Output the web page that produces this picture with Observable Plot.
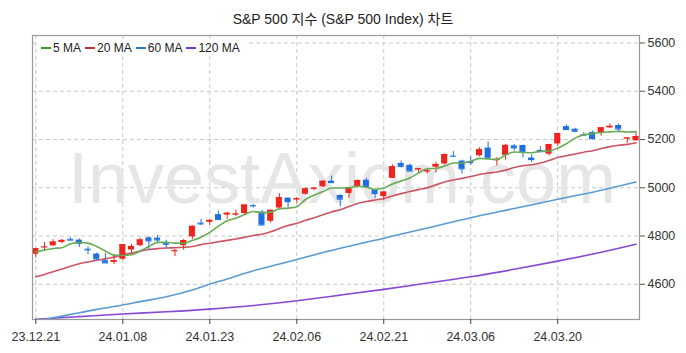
<!DOCTYPE html>
<html>
<head>
<meta charset="utf-8">
<script src="https://cdn.jsdelivr.net/npm/d3@7"></script>
<script src="https://cdn.jsdelivr.net/npm/@observablehq/plot@0.6"></script>
<style>
  html, body { margin: 0; padding: 0; background: #fff; }
  #wrap { position: relative; width: 686px; height: 353px; overflow: hidden; font-family: "Liberation Sans", Arial, "Noto Sans CJK KR", sans-serif; }
  #title { position: absolute; left: 0; width: 686px; top: 8px; text-align: center; font-size: 14px; color: #222; font-family: "Liberation Sans", Arial, "Noto Sans CJK KR", sans-serif; }
  #legend { position: absolute; left: 37px; top: 40px; height: 16px; background: #fff; display: flex; align-items: center; padding: 0 4px; font-size: 12px; color: #222; }
  .item { display: flex; align-items: center; margin-right: 4px; }
  .sw { width: 10px; height: 2px; margin-right: 2px; }
</style>
</head>
<body>
<div id="wrap">
  <div id="chart"></div>
  <div id="title">S&amp;P 500 지수 (S&amp;P 500 Index) 차트</div>
  <div id="legend"></div>
</div>
<script>
const dates = ["23.12.21","23.12.22","23.12.26","23.12.27","23.12.28","23.12.29","24.01.02","24.01.03","24.01.04","24.01.05","24.01.08","24.01.09","24.01.10","24.01.11","24.01.12","24.01.16","24.01.17","24.01.18","24.01.19","24.01.22","24.01.23","24.01.24","24.01.25","24.01.26","24.01.29","24.01.30","24.01.31","24.02.01","24.02.02","24.02.05","24.02.06","24.02.07","24.02.08","24.02.09","24.02.12","24.02.13","24.02.14","24.02.15","24.02.16","24.02.20","24.02.21","24.02.22","24.02.23","24.02.26","24.02.27","24.02.28","24.02.29","24.03.01","24.03.04","24.03.05","24.03.06","24.03.07","24.03.08","24.03.11","24.03.12","24.03.13","24.03.14","24.03.15","24.03.18","24.03.19","24.03.20","24.03.21","24.03.22","24.03.25","24.03.26","24.03.27","24.03.28","24.04.01","24.04.02","24.04.03"];

const opens = [4724.29,4753.92,4758.86,4773.45,4786.44,4782.88,4745.20,4725.07,4697.42,4690.57,
4703.70,4741.93,4759.94,4792.13,4791.18,4772.35,4739.13,4760.10,4796.28,4853.42,
4856.80,4888.56,4886.66,4888.91,4892.95,4925.89,4899.19,4861.11,4916.06,4957.19,
4950.16,4973.05,4995.16,5004.17,5026.83,4967.94,4976.44,5003.14,5031.13,4989.32,
4963.03,5038.83,5100.92,5093.00,5074.60,5067.20,5085.36,5098.51,5130.99,5110.52,
5108.03,5132.38,5164.46,5111.96,5134.30,5173.49,5175.14,5123.31,5154.77,5139.09,
5181.69,5253.43,5242.48,5219.52,5228.85,5226.31,5248.03,5257.97,5204.29,5194.37];

const highs = [4748.71,4772.94,4784.72,4785.39,4793.30,4788.43,4754.33,4729.29,4726.78,4721.49,
4764.54,4765.47,4790.80,4798.50,4802.40,4782.34,4744.23,4785.79,4842.07,4868.41,
4866.48,4903.68,4898.15,4906.69,4929.31,4931.09,4906.75,4906.97,4975.29,4957.19,
4957.77,4999.89,5000.40,5030.06,5048.39,4971.30,5002.52,5032.72,5038.70,4993.71,
4983.21,5094.39,5111.06,5097.66,5080.69,5077.37,5104.99,5140.33,5149.67,5114.54,
5127.97,5165.62,5189.26,5124.66,5179.87,5179.14,5176.85,5136.86,5170.00,5180.31,
5226.19,5261.10,5246.09,5229.09,5235.16,5249.26,5264.85,5263.95,5208.34,5228.75];

const lows = [4708.35,4736.77,4758.45,4768.90,4780.98,4751.99,4722.67,4699.71,4687.53,4682.11,
4699.82,4730.35,4756.20,4739.58,4768.98,4747.12,4714.82,4740.57,4785.87,4844.05,
4844.37,4865.94,4869.34,4881.47,4887.40,4916.27,4845.15,4853.52,4907.99,4918.09,
4934.88,4969.05,4987.09,5000.34,5016.83,4920.31,4956.45,4999.44,4999.52,4955.02,
4946.00,5038.83,5081.46,5068.91,5057.29,5058.35,5061.89,5094.16,5127.18,5056.82,
5092.22,5128.21,5117.50,5091.14,5114.48,5151.88,5123.30,5104.35,5145.47,5131.59,
5171.55,5240.66,5229.87,5216.09,5203.42,5213.92,5245.82,5229.20,5184.05,5194.37];

const closes = [4746.75,4754.63,4774.75,4781.58,4783.35,4769.83,4742.83,4704.81,4688.68,4697.24,
4763.54,4756.50,4783.45,4780.24,4783.83,4765.98,4739.21,4780.94,4839.81,4850.43,
4864.60,4868.55,4894.16,4890.97,4927.93,4924.97,4845.65,4906.19,4958.61,4942.81,
4954.23,4995.06,4997.91,5026.61,5021.84,4953.17,5000.62,5029.73,5005.57,4975.51,
4981.80,5087.03,5088.80,5069.53,5078.18,5069.76,5096.27,5137.08,5130.95,5078.65,
5104.76,5157.36,5123.69,5117.94,5175.27,5165.31,5150.48,5117.09,5149.42,5178.51,
5224.62,5241.53,5234.18,5218.19,5203.58,5248.49,5254.35,5243.77,5205.81,5211.49];

const ma5 = [4734.64,4741.73,4748.57,4751.21,4768.21,4772.83,4770.47,4756.48,4737.90,4720.68,
4719.42,4722.15,4737.88,4756.19,4773.51,4774.00,4770.54,4770.04,4781.95,4795.27,
4815.00,4840.87,4863.51,4873.74,4889.24,4901.32,4896.74,4899.14,4912.67,4915.65,
4921.50,4951.38,4969.72,4983.32,4999.13,4998.92,5000.03,5006.39,5002.19,4992.92,
4998.65,5015.93,5027.74,5040.53,5061.07,5078.66,5080.51,5090.16,5102.45,5102.54,
5109.54,5121.76,5119.08,5116.48,5135.80,5147.91,5146.54,5145.22,5151.51,5152.16,
5164.02,5182.23,5205.65,5219.41,5224.42,5229.19,5231.76,5233.68,5231.20,5232.78];

const ma20 = [4631.00,4640.76,4651.98,4663.31,4674.95,4685.05,4692.46,4699.21,4705.29,4712.68,
4721.58,4729.19,4737.24,4744.06,4747.90,4750.22,4751.22,4753.24,4756.82,4764.42,
4770.31,4776.01,4781.98,4787.45,4794.68,4802.43,4807.57,4817.64,4831.14,4843.42,
4852.95,4864.88,4875.60,4887.92,4899.82,4909.18,4922.25,4934.69,4942.98,4949.23,
4955.09,4966.02,4975.75,4984.68,4992.19,4999.43,5011.96,5023.51,5032.12,5038.92,
5046.44,5054.56,5060.85,5065.41,5073.08,5083.69,5091.18,5095.55,5102.74,5112.89,
5125.04,5132.76,5140.03,5147.46,5153.73,5162.67,5170.57,5175.91,5179.65,5186.29];

// 60 MA and 120 MA at selected days
const ma60Days = [0, 3, 5, 7, 10, 12, 15, 18, 20, 22, 25, 28, 30, 35, 40, 45, 50, 55, 60, 65, 69];
const ma60 = [4447, 4468, 4482, 4496, 4514, 4528, 4548, 4576, 4600, 4622, 4656, 4684, 4703, 4749, 4791, 4833, 4876, 4914, 4952, 4990, 5024];

const ma120Days = [0, 5, 10, 15, 20, 25, 30, 35, 40, 45, 50, 55, 60, 65, 69];
const ma120 = [4455, 4466, 4477, 4486, 4497, 4512, 4532, 4555, 4579, 4605, 4631, 4662, 4696, 4733, 4766];

const yTicks = [4600, 4800, 5000, 5200, 5400, 5600];
const xTicks = [0, 10, 20, 30, 40, 50, 60];

const series = [
  {name: "5 MA", color: "#3f9a2c", line: "#68ab55"},
  {name: "20 MA", color: "#c62d3a", line: "#cc5563"},
  {name: "60 MA", color: "#2a7cc6", line: "#5a9bd4"},
  {name: "120 MA", color: "#7a35d0", line: "#8748d4"}
];

const UP = "#f0241c", DOWN = "#1f6fe3";

const candles = dates.map((d, i) => ({i, date: d, open: opens[i], high: highs[i], low: lows[i], close: closes[i]}));
const col = d => d.close >= d.open ? UP : DOWN;
const ma5Data = ma5.map((v, i) => ({i, v}));
const ma20Data = ma20.map((v, i) => ({i, v}));
const ma60Data = ma60.map((v, k) => ({i: ma60Days[k], v}));
const ma120Data = ma120.map((v, k) => ({i: ma120Days[k], v}));

const chart = Plot.plot({
  width: 686,
  height: 353,
  marginLeft: 32,
  marginRight: 47,
  marginTop: 35,
  marginBottom: 34,
  style: {fontFamily: "'Liberation Sans', Arial, sans-serif", fontSize: "12.5px", color: "#333", background: "#fff"},
  x: {type: "linear", domain: [-0.38, 69.4], label: null},
  y: {domain: [4454, 5631], label: null},
  marks: [
    Plot.gridY(yTicks, {stroke: "#c8c8c8", strokeOpacity: 1, strokeDasharray: "4,3"}),
    Plot.gridX(xTicks, {stroke: "#c8c8c8", strokeOpacity: 1, strokeDasharray: "4,3"}),
    Plot.text(["InvestAxiom.com"], {frameAnchor: "middle", dx: 6, dy: 2, fontSize: 72, fill: "#e6e6e6", fontFamily: "'Liberation Sans', Arial, sans-serif"}),
    Plot.line(ma120Data, {x: "i", y: "v", stroke: series[3].line, strokeWidth: 1.6, curve: "monotone-x", clip: true}),
    Plot.line(ma60Data, {x: "i", y: "v", stroke: series[2].line, strokeWidth: 1.6, curve: "monotone-x", clip: true}),
    Plot.line(ma20Data, {x: "i", y: "v", stroke: series[1].line, strokeWidth: 1.6, curve: "monotone-x", clip: true}),
    Plot.ruleX(candles, {x: "i", y1: "low", y2: "high", stroke: col, strokeWidth: 1}),
    Plot.rect(candles, {x1: d => d.i - 0.35, x2: d => d.i + 0.35, y1: "open", y2: "close", fill: col}),
    Plot.ruleY(candles, {x1: d => d.i - 0.35, x2: d => d.i + 0.35, y: "close", stroke: col, strokeWidth: 1.2}),
    Plot.line(ma5Data, {x: "i", y: "v", stroke: series[0].line, strokeWidth: 1.6, curve: "monotone-x", clip: true}),
    Plot.frame({stroke: "#999", strokeWidth: 1.2}),
    Plot.axisY(yTicks, {anchor: "right", label: null, tickSize: 5, tickPadding: 3, tickFormat: d => String(d), stroke: "#555", fill: "#333", fontSize: 12.5}),
    Plot.axisX(xTicks, {anchor: "bottom", label: null, tickSize: 5, tickPadding: 8, tickFormat: i => dates[i], stroke: "#444", fill: "#333", fontSize: 12.5})
  ]
});
document.getElementById("chart").appendChild(chart);

const legend = document.getElementById("legend");
series.forEach(s => {
  const item = document.createElement("div");
  item.className = "item";
  const sw = document.createElement("div");
  sw.className = "sw";
  sw.style.background = s.color;
  const t = document.createElement("span");
  t.textContent = s.name;
  item.appendChild(sw);
  item.appendChild(t);
  legend.appendChild(item);
});
</script>
</body>
</html>
